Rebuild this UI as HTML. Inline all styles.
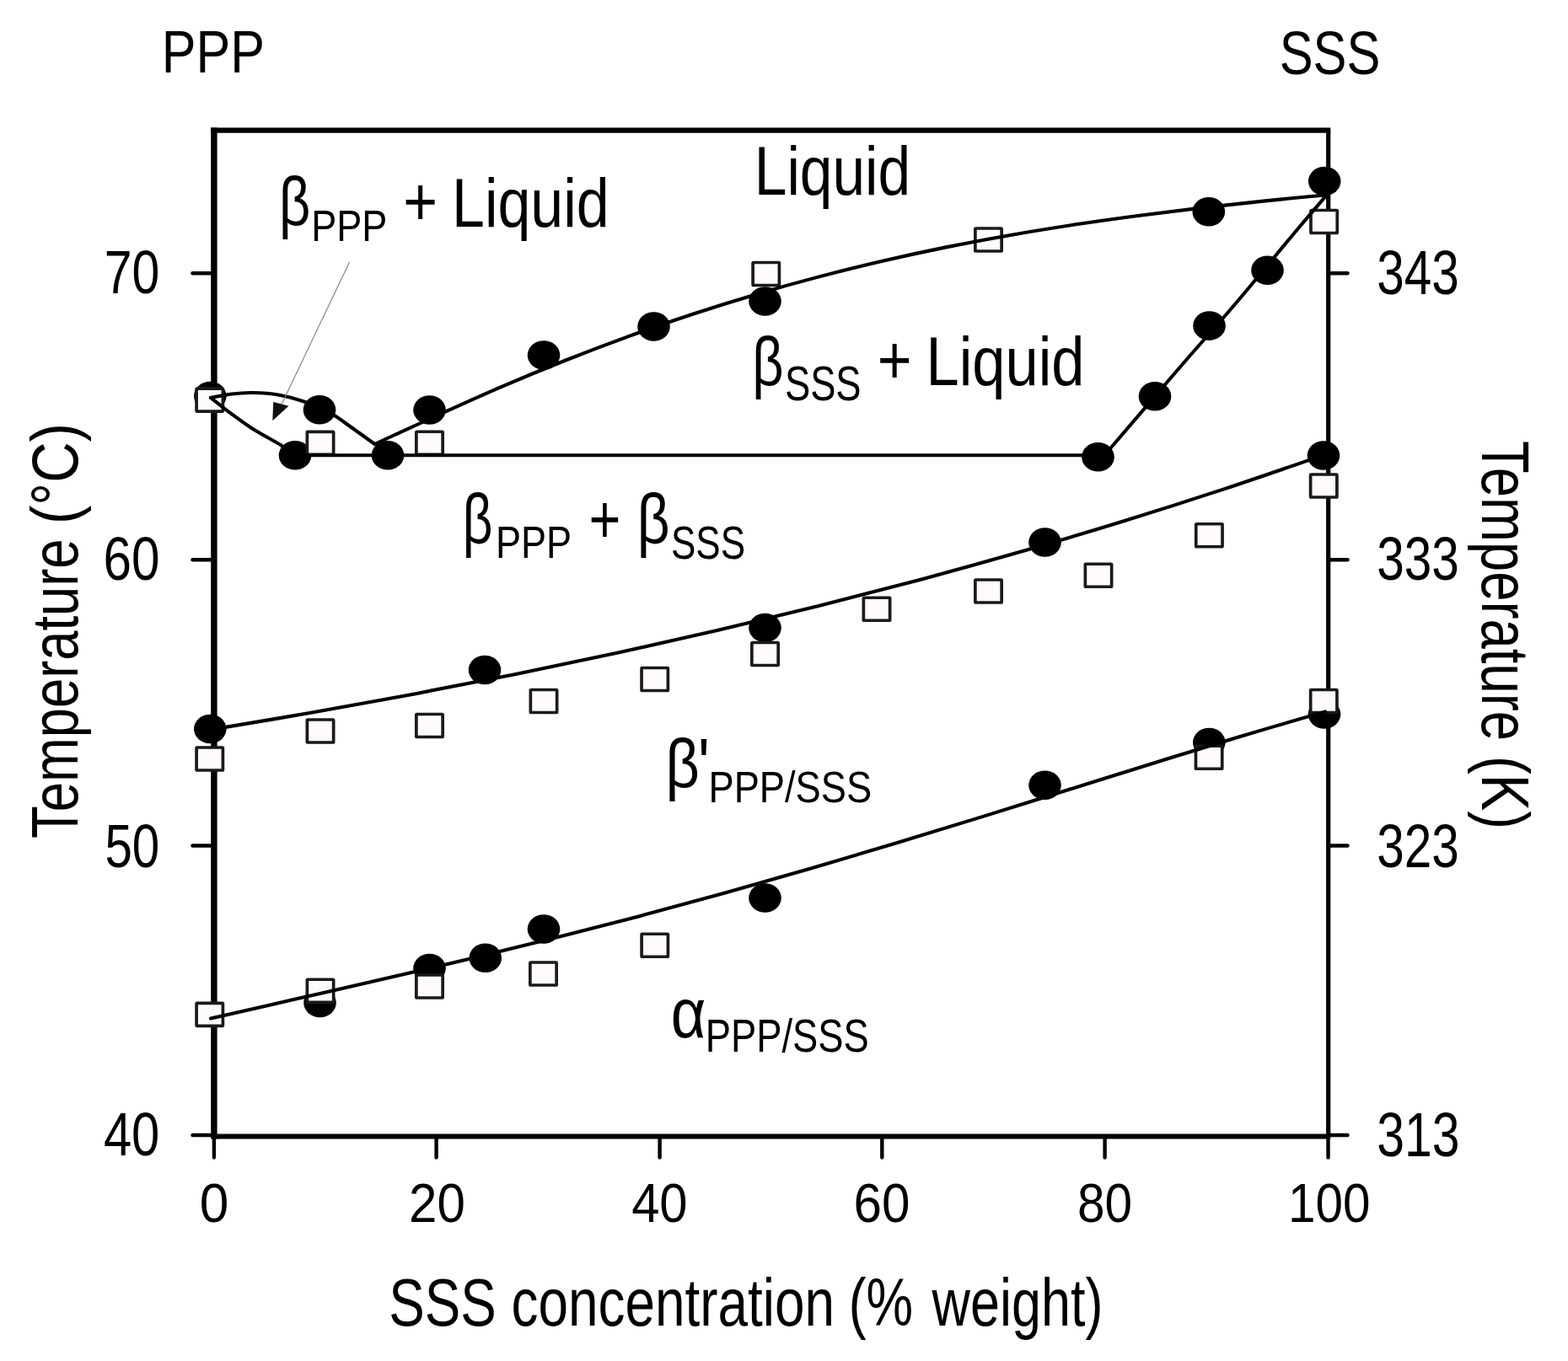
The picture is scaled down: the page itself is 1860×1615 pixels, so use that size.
<!DOCTYPE html>
<html lang="en"><head><meta charset="utf-8"><title>PPP–SSS phase diagram</title>
<style>
html,body{margin:0;padding:0;background:#fff;}
body{width:1860px;height:1615px;overflow:hidden;}
svg{display:block;}
#wrap{width:1860px;height:1615px;background:#fff;}
svg text{font-family:"Liberation Sans", "DejaVu Sans", sans-serif;fill:#000;}
</style></head><body>
<div id="wrap">
<svg width="1860" height="1615" viewBox="0 0 1860 1615">
<rect width="1860" height="1615" fill="#fff"/>
<g id="plot">
<path d="M253.9 1351.5 V151.6" fill="none" stroke="#000" stroke-width="7.4"/>
<path d="M250.20000000000002 154.7 H1578.3" fill="none" stroke="#000" stroke-width="6.2"/>
<path d="M254.3 1348.5 H1578.3" fill="none" stroke="#000" stroke-width="6.2"/>
<path d="M1575.7 154.7 V1348.5" fill="none" stroke="#000" stroke-width="5.2"/>
<path d="M228.5 324.2 H254.3" stroke="#000" stroke-width="4.4" stroke-linecap="round"/>
<path d="M1575.7 324.2 H1598.5" stroke="#000" stroke-width="4.4" stroke-linecap="round"/>
<path d="M228.5 664.2 H254.3" stroke="#000" stroke-width="4.4" stroke-linecap="round"/>
<path d="M1575.7 664.2 H1598.5" stroke="#000" stroke-width="4.4" stroke-linecap="round"/>
<path d="M228.5 1003.5 H254.3" stroke="#000" stroke-width="4.4" stroke-linecap="round"/>
<path d="M1575.7 1003.5 H1598.5" stroke="#000" stroke-width="4.4" stroke-linecap="round"/>
<path d="M228.5 1347 H254.3" stroke="#000" stroke-width="4.4" stroke-linecap="round"/>
<path d="M1575.7 1347 H1598.5" stroke="#000" stroke-width="4.4" stroke-linecap="round"/>
<path d="M253.9 1348.5 V1373.5" stroke="#000" stroke-width="4.4" stroke-linecap="round"/>
<path d="M517.6 1348.5 V1373.5" stroke="#000" stroke-width="4.4" stroke-linecap="round"/>
<path d="M782.6 1348.5 V1373.5" stroke="#000" stroke-width="4.4" stroke-linecap="round"/>
<path d="M1046.3 1348.5 V1373.5" stroke="#000" stroke-width="4.4" stroke-linecap="round"/>
<path d="M1310.6 1348.5 V1373.5" stroke="#000" stroke-width="4.4" stroke-linecap="round"/>
<path d="M1575.5 1348.5 V1373.5" stroke="#000" stroke-width="4.4" stroke-linecap="round"/>
<ellipse cx="249.3" cy="470" rx="19.3" ry="17.3" fill="#000"/>
<ellipse cx="379" cy="486.3" rx="19.3" ry="17.3" fill="#000"/>
<ellipse cx="460" cy="540.3" rx="19.3" ry="17.3" fill="#000"/>
<ellipse cx="509.5" cy="486.5" rx="19.3" ry="17.3" fill="#000"/>
<ellipse cx="645" cy="421.5" rx="19.3" ry="17.3" fill="#000"/>
<ellipse cx="775.5" cy="387.5" rx="19.3" ry="17.3" fill="#000"/>
<ellipse cx="907.5" cy="357.5" rx="19.3" ry="17.3" fill="#000"/>
<ellipse cx="1433.8" cy="251.2" rx="19.3" ry="17.3" fill="#000"/>
<ellipse cx="1571.2" cy="215" rx="19.3" ry="17.3" fill="#000"/>
<ellipse cx="350" cy="540.3" rx="19.3" ry="17.3" fill="#000"/>
<ellipse cx="1302.5" cy="542.3" rx="19.3" ry="17.3" fill="#000"/>
<ellipse cx="1370" cy="470.3" rx="19.3" ry="17.3" fill="#000"/>
<ellipse cx="1434.5" cy="386.6" rx="19.3" ry="17.3" fill="#000"/>
<ellipse cx="1503.5" cy="320.7" rx="19.3" ry="17.3" fill="#000"/>
<ellipse cx="249.3" cy="865" rx="19.3" ry="17.3" fill="#000"/>
<ellipse cx="575" cy="795" rx="19.3" ry="17.3" fill="#000"/>
<ellipse cx="907.5" cy="745" rx="19.3" ry="17.3" fill="#000"/>
<ellipse cx="1239.5" cy="643.5" rx="19.3" ry="17.3" fill="#000"/>
<ellipse cx="1570" cy="540.5" rx="19.3" ry="17.3" fill="#000"/>
<ellipse cx="379.5" cy="1190" rx="19.3" ry="17.3" fill="#000"/>
<ellipse cx="509.5" cy="1149" rx="19.3" ry="17.3" fill="#000"/>
<ellipse cx="575.75" cy="1136.75" rx="19.3" ry="17.3" fill="#000"/>
<ellipse cx="645" cy="1102.5" rx="19.3" ry="17.3" fill="#000"/>
<ellipse cx="907.5" cy="1065.5" rx="19.3" ry="17.3" fill="#000"/>
<ellipse cx="1239.5" cy="931.75" rx="19.3" ry="17.3" fill="#000"/>
<ellipse cx="1434.3" cy="881" rx="19.3" ry="17.3" fill="#000"/>
<ellipse cx="1571" cy="847.5" rx="19.3" ry="17.3" fill="#000"/>
<rect x="233.1" y="461.1" width="31.3" height="27" rx="0.8" fill="#fffbfd" stroke="#1a1a1a" stroke-width="3.7"/>
<rect x="364.35" y="512.4" width="31.3" height="27" rx="0.8" fill="#fffbfd" stroke="#1a1a1a" stroke-width="3.7"/>
<rect x="493.85" y="512.25" width="31.3" height="27" rx="0.8" fill="#fffbfd" stroke="#1a1a1a" stroke-width="3.7"/>
<rect x="893.1" y="311.5" width="31.3" height="27" rx="0.8" fill="#fffbfd" stroke="#1a1a1a" stroke-width="3.7"/>
<rect x="1156.85" y="271.0" width="31.3" height="27" rx="0.8" fill="#fffbfd" stroke="#1a1a1a" stroke-width="3.7"/>
<rect x="1554.9499999999998" y="249.5" width="31.3" height="27" rx="0.8" fill="#fffbfd" stroke="#1a1a1a" stroke-width="3.7"/>
<rect x="233.1" y="887.0" width="31.3" height="27" rx="0.8" fill="#fffbfd" stroke="#1a1a1a" stroke-width="3.7"/>
<rect x="364.35" y="854.0" width="31.3" height="27" rx="0.8" fill="#fffbfd" stroke="#1a1a1a" stroke-width="3.7"/>
<rect x="493.85" y="847.5" width="31.3" height="27" rx="0.8" fill="#fffbfd" stroke="#1a1a1a" stroke-width="3.7"/>
<rect x="629.35" y="818.5" width="31.3" height="27" rx="0.8" fill="#fffbfd" stroke="#1a1a1a" stroke-width="3.7"/>
<rect x="761.0500000000001" y="792.5" width="31.3" height="27" rx="0.8" fill="#fffbfd" stroke="#1a1a1a" stroke-width="3.7"/>
<rect x="891.85" y="762.5" width="31.3" height="27" rx="0.8" fill="#fffbfd" stroke="#1a1a1a" stroke-width="3.7"/>
<rect x="1024.35" y="709.25" width="31.3" height="27" rx="0.8" fill="#fffbfd" stroke="#1a1a1a" stroke-width="3.7"/>
<rect x="1156.85" y="688.0" width="31.3" height="27" rx="0.8" fill="#fffbfd" stroke="#1a1a1a" stroke-width="3.7"/>
<rect x="1287.35" y="669.25" width="31.3" height="27" rx="0.8" fill="#fffbfd" stroke="#1a1a1a" stroke-width="3.7"/>
<rect x="1418.75" y="621.75" width="31.3" height="27" rx="0.8" fill="#fffbfd" stroke="#1a1a1a" stroke-width="3.7"/>
<rect x="1554.6" y="563.0" width="31.3" height="27" rx="0.8" fill="#fffbfd" stroke="#1a1a1a" stroke-width="3.7"/>
<rect x="233.1" y="1190.4" width="31.3" height="27" rx="0.8" fill="#fffbfd" stroke="#1a1a1a" stroke-width="3.7"/>
<rect x="364.35" y="1162.25" width="31.3" height="27" rx="0.8" fill="#fffbfd" stroke="#1a1a1a" stroke-width="3.7"/>
<rect x="493.85" y="1157.0" width="31.3" height="27" rx="0.8" fill="#fffbfd" stroke="#1a1a1a" stroke-width="3.7"/>
<rect x="628.85" y="1142.0" width="31.3" height="27" rx="0.8" fill="#fffbfd" stroke="#1a1a1a" stroke-width="3.7"/>
<rect x="761.1" y="1108.25" width="31.3" height="27" rx="0.8" fill="#fffbfd" stroke="#1a1a1a" stroke-width="3.7"/>
<rect x="1418.4499999999998" y="885.25" width="31.3" height="27" rx="0.8" fill="#fffbfd" stroke="#1a1a1a" stroke-width="3.7"/>
<rect x="1554.6499999999999" y="818.5" width="31.3" height="27" rx="0.8" fill="#fffbfd" stroke="#1a1a1a" stroke-width="3.7"/>
<path d="M250.00 472.00 C254.17 471.25 266.67 468.50 275.00 467.50 C283.33 466.50 290.83 465.83 300.00 466.00 C309.17 466.17 319.67 466.67 330.00 468.50 C340.33 470.33 353.67 474.25 362.00 477.00 C370.33 479.75 374.17 482.28 380.00 485.00 C385.83 487.72 390.88 489.63 397.00 493.30 C403.12 496.97 408.78 501.38 416.70 507.00 C424.62 512.62 439.87 523.67 444.50 527.00" fill="none" stroke="#000" stroke-width="4.1" stroke-linecap="round" stroke-linejoin="round"/>
<path d="M250.00 472.00 C254.17 475.25 266.67 485.33 275.00 491.50 C283.33 497.67 290.42 502.95 300.00 509.00 C309.58 515.05 324.17 522.58 332.50 527.80 C340.83 533.02 347.08 538.22 350.00 540.30" fill="none" stroke="#000" stroke-width="4.1" stroke-linecap="round" stroke-linejoin="round"/>
<path d="M350 540.3 H1309" fill="none" stroke="#000" stroke-width="4.1" stroke-linecap="round" stroke-linejoin="round"/>
<path d="M444.50 527.00 C457.05 521.24 494.70 503.82 519.80 492.47 C544.90 481.12 570.00 469.69 595.10 458.91 C620.20 448.12 645.30 437.73 670.40 427.76 C695.50 417.79 720.60 408.23 745.70 399.11 C770.80 389.98 795.90 381.28 821.00 373.00 C846.10 364.72 871.20 356.87 896.30 349.43 C921.40 341.99 946.50 334.99 971.60 328.37 C996.70 321.75 1021.80 315.56 1046.90 309.73 C1072.00 303.90 1097.10 298.47 1122.20 293.38 C1147.30 288.28 1172.40 283.58 1197.50 279.15 C1222.60 274.73 1247.70 270.67 1272.80 266.84 C1297.90 263.01 1323.00 259.51 1348.10 256.19 C1373.20 252.86 1398.30 249.82 1423.40 246.89 C1448.50 243.96 1473.60 241.23 1498.70 238.62 C1523.80 236.00 1561.45 232.44 1574.00 231.20" fill="none" stroke="#000" stroke-width="4.1" stroke-linecap="round" stroke-linejoin="round"/>
<path d="M1309.50 541.00 C1325.00 522.92 1376.58 462.50 1402.50 432.50 C1428.42 402.50 1442.08 387.92 1465.00 361.00 C1487.92 334.08 1521.83 292.63 1540.00 271.00 C1558.17 249.37 1568.33 237.83 1574.00 231.20" fill="none" stroke="#000" stroke-width="4.1" stroke-linecap="round" stroke-linejoin="round"/>
<path d="M250.00 865.85 C270.03 862.45 330.12 852.51 370.18 845.48 C410.24 838.45 450.30 831.19 490.36 823.65 C530.42 816.11 570.48 808.32 610.55 800.23 C650.61 792.13 690.67 783.77 730.73 775.07 C770.79 766.38 810.85 757.40 850.91 748.06 C890.97 738.72 931.03 729.08 971.09 719.05 C1011.15 709.03 1051.21 698.67 1091.27 687.92 C1131.33 677.16 1171.39 666.05 1211.45 654.52 C1251.52 642.99 1291.58 631.08 1331.64 618.72 C1371.70 606.37 1411.76 593.62 1451.82 580.40 C1491.88 567.19 1551.97 546.25 1572.00 539.42" fill="none" stroke="#000" stroke-width="4.1" stroke-linecap="round" stroke-linejoin="round"/>
<path d="M250.00 1208.44 C266.95 1204.59 317.79 1193.06 351.69 1185.34 C385.59 1177.61 419.49 1169.96 453.38 1162.11 C487.28 1154.26 521.18 1146.37 555.08 1138.24 C588.97 1130.11 622.87 1121.85 656.77 1113.34 C690.67 1104.82 724.56 1096.12 758.46 1087.15 C792.36 1078.19 826.26 1068.99 860.15 1059.56 C894.05 1050.13 927.95 1040.44 961.85 1030.57 C995.74 1020.70 1029.64 1010.57 1063.54 1000.32 C1097.44 990.07 1131.33 979.59 1165.23 969.09 C1199.13 958.58 1233.03 947.88 1266.92 937.27 C1300.82 926.66 1334.72 915.93 1368.62 905.42 C1402.51 894.91 1436.41 884.36 1470.31 874.20 C1504.21 864.03 1555.05 849.37 1572.00 844.40" fill="none" stroke="#000" stroke-width="4.1" stroke-linecap="round" stroke-linejoin="round"/>
<path d="M414.5 311 L333 482" stroke="#808080" stroke-width="1.1" fill="none"/>
<path d="M323.3 499.2 L324.2 477 L342.5 481.8 Z" fill="#111"/>
</g>
<g id="labels">
<text><tspan x="191.74" y="85.75" font-size="71.22" textLength="122.25" lengthAdjust="spacingAndGlyphs">PPP</tspan></text>
<text><tspan x="1517.75" y="87.52" font-size="72.74" textLength="119.49" lengthAdjust="spacingAndGlyphs">SSS</tspan></text>
<text><tspan x="894.80" y="231.47" font-size="80.65" textLength="185.39" lengthAdjust="spacingAndGlyphs">Liquid</tspan></text>
<text><tspan x="331.03" y="267.45" font-size="81.99" textLength="37.26" lengthAdjust="spacingAndGlyphs">β</tspan><tspan x="369.31" y="285.75" font-size="51.24" textLength="90.08" lengthAdjust="spacingAndGlyphs">PPP</tspan> <tspan x="478.32" y="266.74" font-size="82.31" textLength="40.85" lengthAdjust="spacingAndGlyphs">+</tspan> <tspan x="536.01" y="268.70" font-size="81.99" textLength="186.71" lengthAdjust="spacingAndGlyphs">Liquid</tspan></text>
<text><tspan x="892.28" y="457.45" font-size="81.99" textLength="37.26" lengthAdjust="spacingAndGlyphs">β</tspan><tspan x="930.92" y="475.18" font-size="56.85" textLength="90.67" lengthAdjust="spacingAndGlyphs">SSS</tspan> <tspan x="1040.82" y="455.49" font-size="82.31" textLength="40.85" lengthAdjust="spacingAndGlyphs">+</tspan> <tspan x="1098.47" y="457.45" font-size="81.99" textLength="188.03" lengthAdjust="spacingAndGlyphs">Liquid</tspan></text>
<text><tspan x="548.72" y="644.92" font-size="83.33" textLength="35.72" lengthAdjust="spacingAndGlyphs">β</tspan><tspan x="588.06" y="662.25" font-size="53.05" textLength="90.08" lengthAdjust="spacingAndGlyphs">PPP</tspan> <tspan x="698.57" y="643.70" font-size="81.80" textLength="37.85" lengthAdjust="spacingAndGlyphs">+</tspan> <tspan x="755.85" y="644.92" font-size="83.33" textLength="38.80" lengthAdjust="spacingAndGlyphs">β</tspan><tspan x="795.98" y="662.95" font-size="55.08" textLength="88.05" lengthAdjust="spacingAndGlyphs">SSS</tspan></text>
<text><tspan x="789.41" y="934.20" font-size="81.99" textLength="40.34" lengthAdjust="spacingAndGlyphs">β</tspan><tspan x="828.07" y="936.52" font-size="87.96" textLength="13.79" lengthAdjust="spacingAndGlyphs">'</tspan><tspan x="840.54" y="951.98" font-size="52.38" textLength="193.53" lengthAdjust="spacingAndGlyphs">PPP/SSS</tspan></text>
<text><tspan x="795.78" y="1231.17" font-size="83.39" textLength="41.62" lengthAdjust="spacingAndGlyphs">α</tspan><tspan x="836.78" y="1248.15" font-size="55.37" textLength="193.99" lengthAdjust="spacingAndGlyphs">PPP/SSS</tspan></text>
<text><tspan x="123.74" y="347.52" font-size="72.74" textLength="65.57" lengthAdjust="spacingAndGlyphs">70</tspan></text>
<text><tspan x="122.43" y="687.58" font-size="72.18" textLength="66.93" lengthAdjust="spacingAndGlyphs">60</tspan></text>
<text><tspan x="124.42" y="1029.27" font-size="72.74" textLength="64.88" lengthAdjust="spacingAndGlyphs">50</tspan></text>
<text><tspan x="122.88" y="1371.02" font-size="72.74" textLength="66.47" lengthAdjust="spacingAndGlyphs">40</tspan></text>
<text><tspan x="1633.28" y="348.75" font-size="74.51" textLength="97.57" lengthAdjust="spacingAndGlyphs">343</tspan></text>
<text><tspan x="1633.28" y="687.77" font-size="72.74" textLength="97.57" lengthAdjust="spacingAndGlyphs">333</tspan></text>
<text><tspan x="1633.28" y="1029.27" font-size="72.74" textLength="97.57" lengthAdjust="spacingAndGlyphs">323</tspan></text>
<text><tspan x="1633.26" y="1371.76" font-size="73.80" textLength="98.36" lengthAdjust="spacingAndGlyphs">313</tspan></text>
<text><tspan x="236.82" y="1449.84" font-size="65.68" textLength="34.61" lengthAdjust="spacingAndGlyphs">0</tspan></text>
<text><tspan x="484.99" y="1449.84" font-size="65.68" textLength="66.87" lengthAdjust="spacingAndGlyphs">20</tspan></text>
<text><tspan x="749.13" y="1449.84" font-size="65.68" textLength="66.47" lengthAdjust="spacingAndGlyphs">40</tspan></text>
<text><tspan x="1012.43" y="1449.84" font-size="65.68" textLength="66.93" lengthAdjust="spacingAndGlyphs">60</tspan></text>
<text><tspan x="1277.98" y="1449.84" font-size="65.68" textLength="65.06" lengthAdjust="spacingAndGlyphs">80</tspan></text>
<text><tspan x="1528.06" y="1449.84" font-size="65.68" textLength="97.50" lengthAdjust="spacingAndGlyphs">100</tspan></text>
<text><tspan x="461.32" y="1572.50" font-size="80.00" textLength="127.36" lengthAdjust="spacingAndGlyphs">SSS</tspan> <tspan x="606.57" y="1572.50" font-size="80.00" textLength="383.33" lengthAdjust="spacingAndGlyphs">concentration</tspan> <tspan x="1006.63" y="1572.50" font-size="80.00" textLength="76.32" lengthAdjust="spacingAndGlyphs">(%</tspan> <tspan x="1105.56" y="1572.50" font-size="80.00" textLength="202.82" lengthAdjust="spacingAndGlyphs">weight)</tspan></text>
<text transform="translate(92.30,994.89) rotate(-90)"><tspan x="-0.00" y="0.00" font-size="78.50" textLength="355.47" lengthAdjust="spacingAndGlyphs">Temperature</tspan> <tspan x="372.94" y="0.00" font-size="78.50" textLength="119.82" lengthAdjust="spacingAndGlyphs">(°C)</tspan></text>
<text transform="translate(1757.60,523.11) rotate(90)"><tspan x="0.00" y="0.00" font-size="79.50" textLength="355.92" lengthAdjust="spacingAndGlyphs">Temperature</tspan> <tspan x="373.84" y="0.00" font-size="79.50" textLength="87.10" lengthAdjust="spacingAndGlyphs">(K)</tspan></text>
</g>
</svg>
</div>
</body></html>
